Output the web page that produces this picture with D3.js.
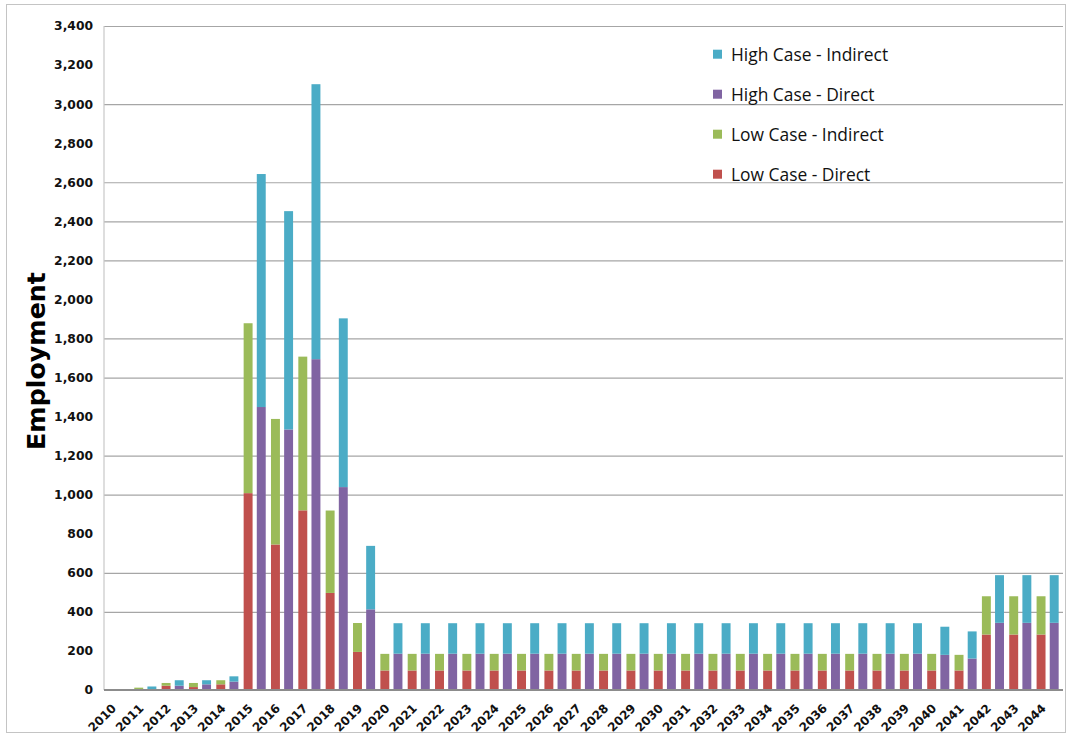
<!DOCTYPE html>
<html>
<head>
<meta charset="utf-8">
<script src="https://cdn.jsdelivr.net/npm/d3@7"></script>
<style>
  body { margin: 0; background: #fff; }
  svg { display: block; }
</style>
</head>
<body>
<svg id="chart" width="1072" height="737"></svg>
<script>
// Employment by year, low and high case, each split into direct and indirect jobs
const years = ["2010","2011","2012","2013","2014","2015","2016","2017","2018","2019",
  "2020","2021","2022","2023","2024","2025","2026","2027","2028","2029",
  "2030","2031","2032","2033","2034","2035","2036","2037","2038","2039",
  "2040","2041","2042","2043","2044"];

const lowDirect = [0, 2, 22, 15, 29, 1008, 745, 920, 497, 195,
  100, 100, 100, 100, 100, 100, 100, 100, 100, 100,
  100, 100, 100, 100, 100, 100, 100, 100, 100, 100,
  100, 100, 284, 284, 284];
const lowIndirect = [0, 10, 14, 21, 21, 870, 643, 787, 422, 148,
  85, 85, 85, 85, 85, 85, 85, 85, 85, 85,
  85, 85, 85, 85, 85, 85, 85, 85, 85, 85,
  85, 80, 196, 196, 196];
const highDirect = [0, 4, 22, 29, 43, 1449, 1334, 1694, 1039, 413,
  186, 186, 186, 186, 186, 186, 186, 186, 186, 186,
  186, 186, 186, 186, 186, 186, 186, 186, 186, 186,
  180, 161, 344, 344, 344];
const highIndirect = [0, 14, 28, 21, 27, 1193, 1118, 1408, 864, 325,
  156, 156, 156, 156, 156, 156, 156, 156, 156, 156,
  156, 156, 156, 156, 156, 156, 156, 156, 156, 156,
  144, 139, 244, 244, 244];

const yTickValues = [0, 200, 400, 600, 800, 1000, 1200, 1400, 1600, 1800,
  2000, 2200, 2400, 2600, 2800, 3000, 3200, 3400];
const gridValues = [400, 600, 1000, 1200, 1600, 1800, 2200, 2400, 2600, 3000, 3400];

const seriesInfo = [
  { key: "highIndirect", label: "High Case - Indirect", color: "#4BACC6" },
  { key: "highDirect",   label: "High Case - Direct",   color: "#8064A2" },
  { key: "lowIndirect",  label: "Low Case - Indirect",  color: "#9BBB59" },
  { key: "lowDirect",    label: "Low Case - Direct",    color: "#C0504D" }
];
const colorOf = Object.fromEntries(seriesInfo.map(s => [s.key, s.color]));

const rows = years.map((yr, i) => ({
  year: yr,
  lowDirect: lowDirect[i], lowIndirect: lowIndirect[i],
  highDirect: highDirect[i], highIndirect: highIndirect[i]
}));

const svg = d3.select("#chart");
const plot = { left: 104, right: 1063, top: 26, bottom: 690 };

const x0 = d3.scaleBand().domain(years).range([104.3, 1061.3]).padding(0);
const x1 = d3.scaleBand().domain(["low", "high"]).range([0, x0.bandwidth()])
  .paddingInner(0.32).paddingOuter(0.2);
const y = d3.scaleLinear().domain([0, 3400]).range([plot.bottom, plot.top]);

// outer frame
svg.append("rect")
  .attr("x", 6.5).attr("y", 4.5).attr("width", 1059).attr("height", 728)
  .attr("fill", "#fff").attr("stroke", "#c4c4c4");

// horizontal gridlines
svg.append("g")
  .attr("transform", `translate(${plot.left},0)`)
  .call(d3.axisLeft(y).tickValues(gridValues).tickSize(-(plot.right - plot.left)).tickFormat(""))
  .call(g => g.select(".domain").remove())
  .call(g => g.selectAll("line").attr("stroke", "#a6a6a6").attr("stroke-width", 1.2));

// left axis line
svg.append("line")
  .attr("x1", plot.left).attr("x2", plot.left)
  .attr("y1", plot.top).attr("y2", plot.bottom)
  .attr("stroke", "#c8c8c8").attr("stroke-width", 1.2);

// y-axis labels
svg.append("g")
  .attr("transform", `translate(${plot.left},0)`)
  .call(d3.axisLeft(y).tickValues(yTickValues).tickSize(0).tickPadding(11).tickFormat(d3.format(",")))
  .call(g => g.select(".domain").remove())
  .call(g => g.selectAll("text")
    .attr("font-family", "'DejaVu Sans', sans-serif")
    .attr("font-weight", "bold")
    .attr("font-size", 12.3)
    .attr("fill", "#111"));

// stacked bars
const stackLow = d3.stack().keys(["lowDirect", "lowIndirect"])(rows);
const stackHigh = d3.stack().keys(["highDirect", "highIndirect"])(rows);

function drawStack(layers, group) {
  svg.append("g").selectAll("g")
    .data(layers)
    .join("g")
      .attr("fill", d => colorOf[d.key])
    .selectAll("rect")
    .data(d => d)
    .join("rect")
      .attr("x", d => x0(d.data.year) + x1(group))
      .attr("width", x1.bandwidth())
      .attr("y", d => y(d[1]))
      .attr("height", d => Math.max(0, y(d[0]) - y(d[1])));
}
drawStack(stackLow, "low");
drawStack(stackHigh, "high");

// x axis
const xAxis = svg.append("g")
  .attr("transform", `translate(0,${plot.bottom})`)
  .call(d3.axisBottom(x0).tickSize(0).tickPadding(0));
xAxis.select(".domain").remove();
svg.append("line")
  .attr("x1", plot.left).attr("x2", plot.right)
  .attr("y1", plot.bottom).attr("y2", plot.bottom)
  .attr("stroke", "#8c8c8c").attr("stroke-width", 2);
xAxis.selectAll("text")
  .attr("font-family", "'DejaVu Sans', sans-serif")
  .attr("font-weight", "bold")
  .attr("font-size", 12)
  .attr("fill", "#111")
  .attr("text-anchor", "end")
  .attr("dy", null)
  .attr("y", 0)
  .attr("transform", "translate(-1,19) rotate(-45)");

// y-axis title
svg.append("text")
  .attr("transform", "translate(45,361) rotate(-90)")
  .attr("text-anchor", "middle")
  .attr("font-family", "'DejaVu Sans', sans-serif")
  .attr("font-weight", "bold")
  .attr("font-size", 25.3)
  .attr("fill", "#000")
  .text("Employment");

// legend
const legend = svg.append("g").attr("transform", "translate(713,0)");
const items = legend.selectAll("g")
  .data(seriesInfo)
  .join("g")
    .attr("transform", (d, i) => `translate(0,${60.7 + i * 40})`);
items.append("rect")
  .attr("x", 0).attr("y", -11).attr("width", 9).attr("height", 9)
  .attr("fill", d => d.color);
items.append("text")
  .attr("x", 18).attr("y", 0)
  .attr("font-family", "'Open Sans', sans-serif")
  .attr("font-size", 17.4)
  .attr("fill", "#111")
  .text(d => d.label);
</script>
</body>
</html>
